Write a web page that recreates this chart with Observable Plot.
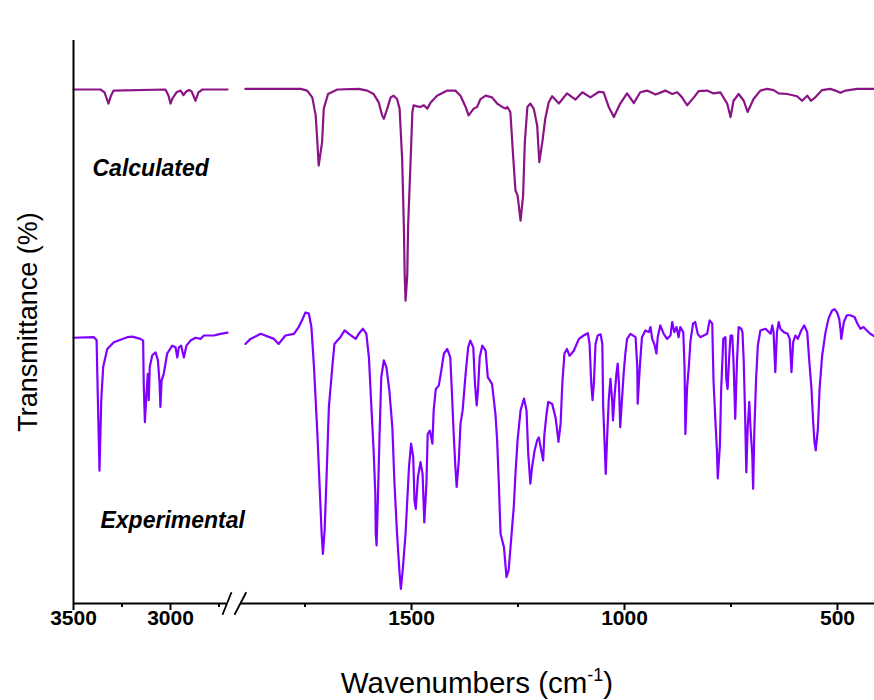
<!DOCTYPE html>
<html>
<head>
<meta charset="utf-8">
<script src="https://cdn.jsdelivr.net/npm/d3@7"></script>
<script src="https://cdn.jsdelivr.net/npm/@observablehq/plot@0.6"></script>
<style>
  html, body { margin: 0; padding: 0; background: #fff; }
</style>
</head>
<body>
<div id="chart"></div>
<script>
// Tick values (wavenumbers, cm-1)
const majorTicks = [3500, 3000, 1500, 1000, 500];
const minorTicks = [3250, 2750, 1750, 1250, 750];

// Calculated spectrum [wavenumber, transmittance], high-wavenumber segment
const calcLeft = [[3500,91.3],[3361,91.3],[3340,90.8],[3325,89.3],[3320,88.8],[3309,90.0],[3294,91.1],[3026,91.3],[3010,90.2],[3000,88.8],[2990,89.7],[2969,90.8],[2948,91.1],[2933,90.3],[2920,90.9],[2905,91.2],[2892,91.0],[2871,89.3],[2856,90.8],[2835,91.3],[2706,91.3]];
// Calculated spectrum, fingerprint segment
const calcRight = [[1890,91.4],[1760,91.4],[1745,91.1],[1733,89.9],[1725,86.7],[1721,81.9],[1718,77.8],[1710,81.9],[1706,87.9],[1696,90.5],[1674,91.3],[1624,91.4],[1604,91.1],[1589,90.5],[1577,89.0],[1569,86.7],[1565,86.1],[1557,87.9],[1549,89.9],[1542,90.2],[1534,89.6],[1528,87.9],[1522,79.0],[1518,67.1],[1516,58.3],[1514,53.8],[1510,58.3],[1508,67.1],[1502,79.0],[1498,87.3],[1495,88.5],[1487,88.3],[1479,88.2],[1471,88.5],[1463,87.9],[1455,89.0],[1440,90.2],[1416,91.1],[1397,91.1],[1385,90.2],[1373,88.2],[1366,86.7],[1354,87.9],[1346,88.2],[1338,89.6],[1326,90.2],[1311,89.9],[1299,88.8],[1287,88.2],[1279,87.9],[1275,88.2],[1268,87.3],[1261,79.0],[1256,73.4],[1251,72.5],[1244,68.0],[1238,72.5],[1234,81.9],[1228,88.2],[1221,88.8],[1213,87.9],[1205,84.9],[1200,78.4],[1193,81.9],[1186,86.1],[1178,89.0],[1170,90.1],[1154,88.8],[1135,90.6],[1115,89.5],[1099,90.8],[1080,89.9],[1060,90.9],[1049,90.8],[1037,88.2],[1025,86.4],[1010,88.8],[994,90.6],[978,88.9],[963,90.8],[947,91.1],[927,90.4],[904,91.1],[888,90.5],[876,90.8],[865,89.9],[853,88.5],[837,89.9],[826,91.0],[806,91.1],[791,90.6],[775,90.8],[759,88.8],[751,86.4],[744,89.3],[732,90.5],[720,89.3],[711,87.3],[697,89.6],[681,91.1],[665,91.4],[650,91.2],[638,90.6],[618,90.5],[595,90.1],[583,89.3],[571,90.2],[562,89.3],[552,89.9],[536,91.2],[517,91.4],[505,91.1],[493,90.7],[481,91.1],[454,91.4],[410,91.4]];

// Experimental spectrum, high-wavenumber segment
const expLeft = [[3500,47.2],[3395,47.3],[3381,46.8],[3375,37.2],[3366,23.6],[3357,36.1],[3347,42.0],[3326,45.2],[3292,46.4],[3223,47.3],[3197,47.4],[3155,47.0],[3141,46.7],[3138,39.0],[3132,32.2],[3124,37.2],[3117,40.8],[3112,36.1],[3107,42.0],[3094,44.1],[3077,44.6],[3065,43.2],[3057,39.6],[3052,34.9],[3046,39.6],[3035,40.8],[3017,44.4],[2991,45.8],[2974,45.5],[2965,43.7],[2957,45.5],[2945,45.8],[2931,43.7],[2918,45.8],[2897,46.7],[2871,47.2],[2845,47.0],[2828,47.6],[2777,47.6],[2742,47.9],[2706,48.1]];
// Experimental spectrum, fingerprint segment
const expRight = [[1890,46.1],[1878,47.0],[1854,47.9],[1823,47.0],[1812,46.1],[1796,47.6],[1776,47.9],[1765,49.1],[1757,50.3],[1749,51.7],[1741,51.5],[1735,49.1],[1729,42.0],[1721,30.1],[1716,21.3],[1711,12.4],[1708,8.8],[1704,13.0],[1700,21.3],[1694,34.9],[1686,42.0],[1681,46.1],[1674,46.7],[1667,47.3],[1657,48.5],[1647,47.9],[1631,47.0],[1624,47.9],[1614,48.8],[1606,47.9],[1600,43.7],[1595,36.1],[1589,27.2],[1585,19.5],[1584,12.4],[1582,10.3],[1579,18.3],[1575,30.1],[1571,40.2],[1565,43.2],[1559,42.0],[1552,37.8],[1545,31.3],[1540,21.3],[1534,12.4],[1528,5.3],[1525,2.6],[1520,6.5],[1514,12.4],[1510,18.3],[1506,24.2],[1501,28.4],[1496,26.0],[1493,18.3],[1490,16.8],[1485,22.4],[1479,25.1],[1474,23.0],[1470,14.4],[1465,21.3],[1462,30.1],[1457,30.7],[1451,28.4],[1448,34.3],[1443,38.1],[1436,38.7],[1430,41.4],[1424,44.4],[1416,45.2],[1409,43.7],[1405,37.2],[1401,30.1],[1397,24.2],[1394,20.7],[1389,25.4],[1385,31.9],[1380,34.3],[1373,40.8],[1367,45.5],[1362,46.7],[1355,45.5],[1351,39.0],[1347,35.2],[1344,37.8],[1340,43.7],[1334,45.8],[1326,44.9],[1321,40.2],[1311,39.0],[1303,33.7],[1299,29.0],[1295,21.3],[1291,12.4],[1283,10.0],[1277,4.7],[1272,5.9],[1265,12.4],[1260,17.1],[1256,23.0],[1251,29.0],[1244,34.3],[1236,36.4],[1230,34.3],[1226,26.6],[1221,21.3],[1217,24.2],[1211,27.2],[1205,29.0],[1201,29.5],[1197,27.8],[1191,25.4],[1188,30.1],[1183,33.7],[1179,35.8],[1170,35.5],[1162,33.1],[1158,30.7],[1155,28.7],[1150,31.9],[1146,39.0],[1141,44.4],[1135,45.2],[1129,44.0],[1119,44.9],[1107,47.0],[1096,47.6],[1086,48.0],[1082,46.1],[1078,39.0],[1075,36.1],[1072,39.0],[1068,46.1],[1063,47.6],[1056,47.8],[1052,46.1],[1050,34.9],[1047,29.0],[1044,23.0],[1041,29.0],[1037,36.1],[1033,39.9],[1029,36.1],[1027,32.5],[1023,37.2],[1019,40.8],[1016,42.6],[1013,39.0],[1010,31.3],[1006,36.1],[1002,40.8],[998,44.4],[994,47.0],[986,47.9],[974,47.3],[970,42.0],[969,35.5],[964,42.0],[959,47.3],[951,48.5],[943,48.2],[939,49.1],[935,47.0],[930,46.1],[925,44.4],[922,47.3],[916,49.4],[908,47.9],[900,47.0],[892,47.6],[888,50.0],[883,48.2],[878,49.1],[873,47.3],[869,49.1],[862,48.2],[859,42.0],[857,30.1],[853,38.4],[849,42.0],[845,46.7],[839,49.7],[834,50.0],[828,47.9],[822,47.3],[806,47.9],[800,50.3],[794,49.7],[791,39.6],[787,33.1],[783,27.2],[781,22.2],[776,28.1],[773,38.1],[768,47.0],[763,47.3],[761,39.9],[758,38.1],[754,44.0],[751,47.6],[747,47.6],[744,42.9],[740,32.8],[736,42.9],[732,49.1],[726,48.8],[723,48.2],[720,42.9],[717,34.0],[714,23.3],[711,31.0],[707,35.8],[704,31.0],[700,26.3],[698,20.4],[695,31.0],[691,39.9],[687,45.8],[681,48.5],[669,48.8],[657,47.9],[653,49.4],[650,48.2],[646,41.1],[642,48.2],[638,50.0],[634,48.8],[626,48.2],[617,47.9],[612,47.0],[608,41.1],[604,46.4],[599,47.6],[593,47.0],[585,48.5],[578,49.4],[571,48.2],[566,42.9],[561,38.1],[557,32.2],[554,28.7],[551,27.2],[546,31.0],[542,38.1],[536,44.0],[528,48.2],[521,50.6],[513,52.0],[507,52.3],[501,51.7],[496,50.6],[493,48.8],[491,47.0],[485,50.0],[478,51.2],[470,51.2],[460,50.9],[453,49.7],[446,48.8],[439,49.1],[431,48.5],[423,47.9],[414,47.5],[410,47.4]];

// Series labels
const seriesLabels = [
  {label: "Calculated", w: 3402, t: 77.3},
  {label: "Experimental", w: 3361, t: 14.7}
];

// Broken x axis: visible axis pieces and break slashes
const axisPieces = [{from: 3500, to: 2711}, {from: 2128, to: 410}];
const breakSlashes = [
  {xa: 2732, ya: -2.0, xb: 2564, yb: 2.0},
  {xa: 2419, ya: -2.0, xb: 1888, yb: 2.0}
];

function rows(arr, series, seg) {
  return arr.map(([w, t]) => ({w, t, series, seg}));
}
const spectra = [
  ...rows(calcLeft, "Calculated", "c1"),
  ...rows(calcRight, "Calculated", "c2"),
  ...rows(expLeft, "Experimental", "e1"),
  ...rows(expRight, "Experimental", "e2")
];

const calcColor = "#8a1486";
const expColor = "#8000ff";

const chart = Plot.plot({
  width: 874,
  height: 700,
  marginTop: 40,
  marginBottom: 97,
  marginLeft: 73,
  marginRight: 0,
  style: {background: "#fff", fontFamily: "'Liberation Sans', Arial, sans-serif", color: "#000"},
  x: {type: "linear", domain: [3500, 2700, 1890, 410], range: [73, 228.2, 244.9, 875.3], label: null},
  y: {domain: [0, 100], range: [603, 40], axis: null},
  marks: [
    Plot.line(spectra.filter(d => d.series === "Calculated"), {x: "w", y: "t", z: "seg", stroke: calcColor, strokeWidth: 2.2}),
    Plot.line(spectra.filter(d => d.series === "Experimental"), {x: "w", y: "t", z: "seg", stroke: expColor, strokeWidth: 2.2}),
    Plot.ruleX([3500], {y1: 0, y2: 100, stroke: "#000", strokeWidth: 2}),
    Plot.ruleY(axisPieces, {x1: "from", x2: "to", y: 0, stroke: "#000", strokeWidth: 2}),
    Plot.link(breakSlashes, {x1: "xa", y1: "ya", x2: "xb", y2: "yb", stroke: "#000", strokeWidth: 1.8}),
    Plot.axisX(majorTicks, {tickSize: 7, tickPadding: 0, strokeWidth: 2, fontSize: 21, fontWeight: "bold", label: null, tickFormat: d => String(d)}),
    Plot.axisX(minorTicks, {tickSize: 4, strokeWidth: 2, label: null, tickFormat: () => ""}),
    Plot.text(seriesLabels, {x: "w", y: "t", text: "label", textAnchor: "start", fontSize: 23, fontWeight: "bold", fontStyle: "italic", fill: "#000"}),
    Plot.text(["Wavenumbers (cm-1)"], {frameAnchor: "bottom", lineAnchor: "middle", textAnchor: "middle", dx: 3, dy: 80, fontSize: 29.5, fill: "#000"}),
    Plot.text(["Transmittance (%)"], {frameAnchor: "left", lineAnchor: "middle", textAnchor: "middle", dx: -45, rotate: -90, fontSize: 27, fill: "#000"})
  ]
});

document.getElementById("chart").appendChild(chart);

// superscript "-1" in the axis title
const tt = [...chart.querySelectorAll("text")].find(e => e.textContent === "Wavenumbers (cm-1)");
if (tt) {
  tt.innerHTML = 'Wavenumbers (cm<tspan dy="-12" font-size="18">-1</tspan><tspan dy="12">)</tspan>';
}
</script>
</body>
</html>
